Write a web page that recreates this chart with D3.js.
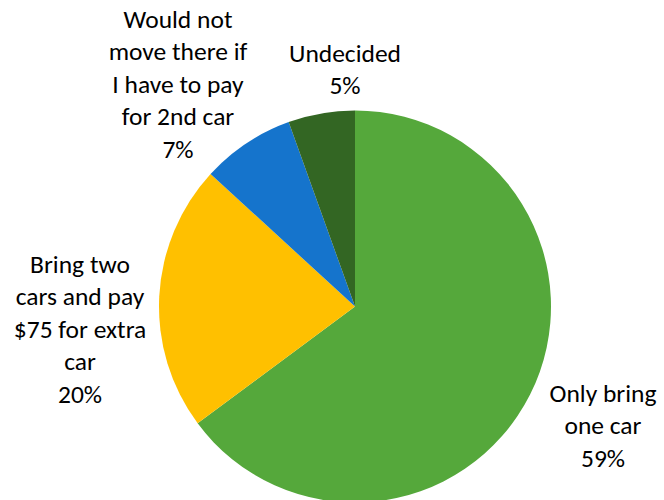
<!DOCTYPE html>
<html>
<head>
<meta charset="utf-8">
<script src="https://d3js.org/d3.v7.min.js"></script>
<style>
  html, body { margin: 0; padding: 0; background: #fff; }
  svg { display: block; }
</style>
</head>
<body>
<svg id="chart" width="664" height="500"></svg>
<script>
const categories = ["Only bring one car", "Bring two cars and pay $75 for extra car", "Would not move there if I have to pay for 2nd car", "Undecided"];
const values = [59, 20, 7, 5];
const percentLabels = ["59%", "20%", "7%", "5%"];
const labelLines = [
  ["Only bring", "one car"],
  ["Bring two", "cars and pay", "$75 for extra", "car"],
  ["Would not", "move there if", "I have to pay", "for 2nd car"],
  ["Undecided"]
];
const colors = ["#55A83B", "#FFC000", "#1574CC", "#336623"];

const svg = d3.select("#chart");
const cx = 355, cy = 306.5, r = 196;

const pie = d3.pie().sort(null).value(d => d)(values);
const arc = d3.arc().innerRadius(0).outerRadius(r);

const g = svg.append("g").attr("transform", `translate(${cx},${cy})`);
g.selectAll("path")
  .data(pie)
  .join("path")
  .attr("d", arc)
  .attr("fill", (d, i) => colors[i]);

// label anchor positions (center x, first baseline y)
const labelPos = [
  {x: 603, y: 402},
  {x: 80, y: 273},
  {x: 178, y: 28},
  {x: 345, y: 62}
];
const lineH = 32.4;

labelLines.forEach((lines, i) => {
  const t = svg.append("text")
    .attr("text-anchor", "middle")
    .attr("font-family", "Calibri, Carlito, Lato, sans-serif")
    .attr("font-size", 25.5)
    .attr("fill", "#000");
  lines.concat([percentLabels[i]]).forEach((ln, j) => {
    t.append("tspan").attr("x", labelPos[i].x).attr("y", labelPos[i].y + j * lineH).text(ln);
  });
});
</script>
</body>
</html>
